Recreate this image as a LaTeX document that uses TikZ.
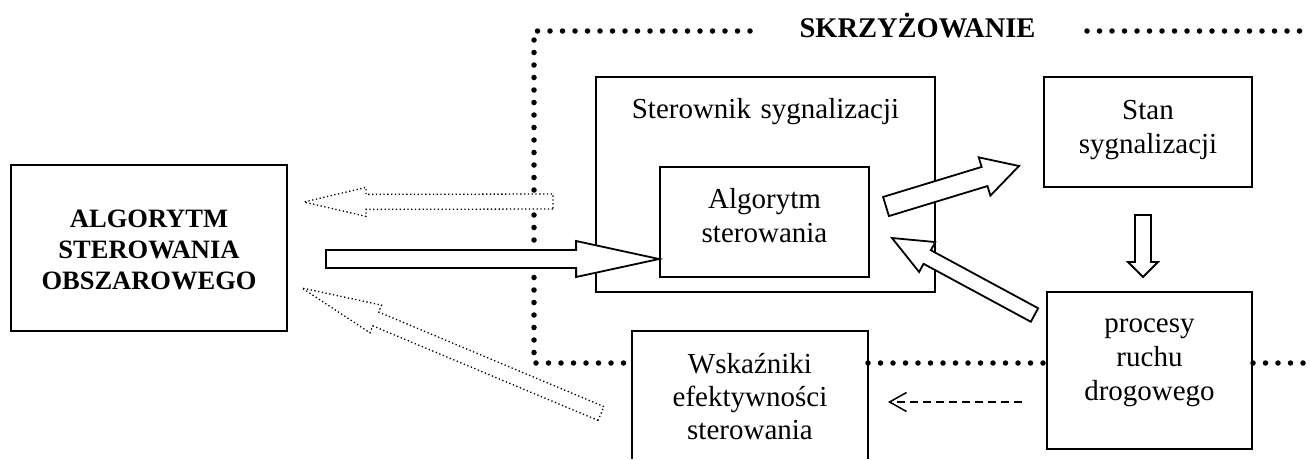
\documentclass[tikz,border=0pt]{standalone}
\usepackage{fontspec}
\setmainfont{Liberation Serif}
\usetikzlibrary{calc,arrows.meta}

% hollow block arrow: #1 style, #2 tail, #3 tip, #4 shaft half-width, #5 head half-width, #6 head length
\newcommand\hollowarrow[6]{%
  \coordinate (#2h) at ($(#3)!#6!(#2)$);
  \draw[#1] ($(#2)!#4!90:(#3)$) -- ($(#2h)!#4!90:(#3)$) -- ($(#2h)!#5!90:(#3)$) -- (#3)
    -- ($(#2h)!#5!-90:(#3)$) -- ($(#2h)!#4!-90:(#3)$) -- ($(#2)!#4!-90:(#3)$) -- cycle;
}

\tikzset{
  box/.style={draw, line width=1.8pt, rectangle, inner sep=0pt},
  txt/.style={font=\fontsize{29}{34}\selectfont, align=center, text width=320pt, anchor=base, inner sep=0pt},
  boldtxt/.style={font=\fontsize{26.5}{31}\selectfont\bfseries, align=center, text width=300pt, anchor=base, inner sep=0pt},
  solidarrow/.style={draw, line width=1.8pt, fill=white, line join=miter},
  dotarrow/.style={draw, line width=1.3pt, fill=white, dash pattern=on 1.3pt off 2.5pt},
  border/.style={line width=5.5pt, line cap=round, dash pattern=on 0pt off 12.5pt},
  dasharrow/.style={line width=1.5pt, dash pattern=on 8pt off 5pt, -{Straight Barb[length=17pt,width=19pt,line width=1.5pt]}}
}

\begin{document}
\begin{tikzpicture}[x=1pt,y=-1pt]
\useasboundingbox (0,0) rectangle (1310,459);

% boundary of the intersection (dotted)
\coordinate (b1) at (750,31);
\coordinate (b2) at (534,31);
\coordinate (b3) at (534,363);
\coordinate (b4) at (631,363);
\coordinate (b5) at (868,363);
\coordinate (b6) at (1046,363);
\coordinate (b7) at (1253,363);
\coordinate (b8) at (1310,363);
\coordinate (b9) at (1087,31);
\coordinate (b10) at (1310,31);
\draw[border] (b1) -- (b2) -- (b3) -- (b4);
\draw[border] (b5) -- (b6);
\draw[border] (b7) -- (b8);
\draw[border] (b9) -- (b10);

\node[font=\fontsize{28.5}{34}\selectfont\bfseries, anchor=base, inner sep=0pt] (skrz) at (917.5,37) {SKRZYŻOWANIE};

% boxes
\node[box, minimum width=276pt, minimum height=166pt] (left) at (149,248) {};
\node[boldtxt] (lefttxt) at (149,227) {ALGORYTM\\STEROWANIA\\OBSZAROWEGO};

\node[box, minimum width=339pt, minimum height=215pt] (outer) at (765.5,184.5) {};
\node[txt] (outertxt) at (765.5,118) {Sterownik sygnalizacji};

\node[box, minimum width=209pt, minimum height=110pt] (inner) at (764.5,222) {};
\node[txt] (innertxt) at (764.5,208) {Algorytm\\sterowania};

\node[box, minimum width=208pt, minimum height=110pt] (stan) at (1148,132) {};
\node[txt] (stantxt) at (1148,119) {Stan\\sygnalizacji};

\node[box, minimum width=205pt, minimum height=157pt] (proc) at (1149.5,370.5) {};
\node[txt] (proctxt) at (1149.5,332) {procesy\\ruchu\\drogowego};

\coordinate (w1) at (632,459);
\coordinate (w2) at (632,331);
\coordinate (w3) at (868,331);
\coordinate (w4) at (868,459);
\draw[line width=1.8pt] (w1) -- (w2) -- (w3) -- (w4);
\node[txt, font=\fontsize{29}{33}\selectfont] (wsktxt) at (750,373) {Wskaźniki\\efektywności\\sterowania};

% arrows
\coordinate (a1t) at (553,201.5);
\coordinate (a1p) at (304,202);
\hollowarrow{dotarrow}{a1t}{a1p}{7.5pt}{14.5pt}{62pt}

\coordinate (a2t) at (326,259);
\coordinate (a2p) at (inner.west |- a2t);
\hollowarrow{solidarrow}{a2t}{a2p}{9pt}{18pt}{83pt}

\coordinate (a3t) at (601,413.5);
\coordinate (a3p) at (302,288);
\hollowarrow{dotarrow}{a3t}{a3p}{7.5pt}{15pt}{80pt}

\coordinate (a4t) at (886,206.5);
\coordinate (a4p) at (1019,166);
\hollowarrow{solidarrow}{a4t}{a4p}{10pt}{20pt}{36pt}

\coordinate (a5t) at (1034.5,315);
\coordinate (a5p) at (892,238);
\hollowarrow{solidarrow}{a5t}{a5p}{7.7pt}{17pt}{40pt}

\coordinate (a6t) at (1143,215);
\coordinate (a6p) at (1143,277);
\hollowarrow{solidarrow}{a6t}{a6p}{8pt}{15pt}{15pt}

\coordinate (d1) at (1022,402);
\coordinate (d2) at (888,402);
\draw[dasharrow] (d1) -- (d2);
\end{tikzpicture}
\end{document}
